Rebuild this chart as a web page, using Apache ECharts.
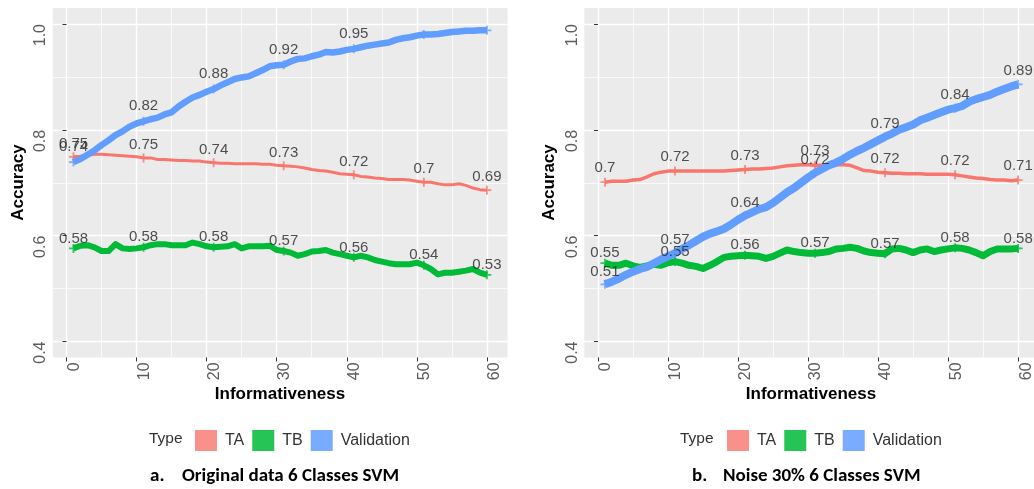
<!DOCTYPE html>
<html><head><meta charset="utf-8">
<script src="https://cdn.jsdelivr.net/npm/echarts@6/dist/echarts.min.js"></script>
<style>html,body{margin:0;padding:0;background:#fff}#c{width:1034px;height:489px}</style>
</head><body><div id="c"></div>
<script>
// ---------- DATA ----------
const informativeness = [1,2,3,4,5,6,7,8,9,10,11,12,13,14,15,16,17,18,19,20,21,22,23,24,25,26,27,28,29,30,
  31,32,33,34,35,36,37,38,39,40,41,42,43,44,45,46,47,48,49,50,51,52,53,54,55,56,57,58,59,60];
const labelAt = [1,11,21,31,41,51,60];
const seriesNames = ['TA','TB','Validation'];
const xTicks = [0,10,20,30,40,50,60];
const xMinor = [5,15,25,35,45,55];
const yTicks = [0.4,0.6,0.8,1.0];
const yMinor = [0.5,0.7,0.9];

// Panel a: Original data 6 Classes SVM
const origTA = [0.749,0.750,0.752,0.754,0.754,0.753,0.752,0.751,0.750,0.749,
  0.747,0.747,0.744,0.744,0.743,0.742,0.742,0.741,0.741,0.739,
  0.738,0.737,0.737,0.736,0.736,0.736,0.736,0.735,0.735,0.733,
  0.732,0.731,0.730,0.728,0.725,0.723,0.722,0.720,0.717,0.716,
  0.715,0.712,0.711,0.709,0.708,0.706,0.706,0.706,0.705,0.703,
  0.701,0.701,0.698,0.696,0.696,0.698,0.695,0.690,0.687,0.686];
const origTB = [0.576,0.581,0.582,0.578,0.571,0.571,0.584,0.576,0.575,0.576,
  0.578,0.582,0.584,0.584,0.582,0.582,0.582,0.587,0.584,0.580,
  0.578,0.579,0.580,0.584,0.576,0.580,0.580,0.580,0.581,0.573,
  0.571,0.568,0.562,0.565,0.570,0.571,0.573,0.568,0.565,0.562,
  0.559,0.562,0.559,0.554,0.551,0.548,0.546,0.546,0.546,0.549,
  0.544,0.537,0.527,0.530,0.530,0.532,0.534,0.537,0.530,0.526];
const origVal = [0.739,0.745,0.753,0.761,0.771,0.780,0.790,0.797,0.806,0.812,
  0.816,0.820,0.823,0.829,0.833,0.844,0.853,0.861,0.866,0.872,
  0.877,0.884,0.890,0.896,0.899,0.901,0.907,0.913,0.920,0.922,
  0.923,0.929,0.934,0.935,0.939,0.942,0.947,0.946,0.948,0.951,
  0.953,0.956,0.959,0.961,0.963,0.965,0.970,0.973,0.975,0.978,
  0.980,0.980,0.981,0.983,0.985,0.986,0.987,0.987,0.988,0.988];
const origTALabels = [0.75,0.75,0.74,0.73,0.72,0.7,0.69];
const origTBLabels = [0.58,0.58,0.58,0.57,0.56,0.54,0.53];
const origValLabels = [0.74,0.82,0.88,0.92,0.95,null,null];

// Panel b: Noise 30% 6 Classes SVM
const noiseTA = [0.701,0.703,0.703,0.703,0.705,0.706,0.711,0.717,0.720,0.722,
  0.722,0.722,0.722,0.722,0.722,0.722,0.722,0.722,0.723,0.724,
  0.725,0.726,0.726,0.727,0.728,0.730,0.732,0.733,0.734,0.734,
  0.733,0.733,0.734,0.734,0.734,0.733,0.728,0.723,0.722,0.720,
  0.719,0.718,0.718,0.717,0.717,0.717,0.716,0.716,0.716,0.716,
  0.715,0.713,0.711,0.709,0.708,0.706,0.705,0.705,0.704,0.705];
const noiseTB = [0.548,0.544,0.544,0.548,0.543,0.540,0.543,0.546,0.544,0.549,
  0.551,0.548,0.544,0.542,0.538,0.544,0.551,0.559,0.561,0.562,
  0.563,0.562,0.561,0.557,0.561,0.567,0.573,0.570,0.568,0.567,
  0.567,0.568,0.570,0.575,0.576,0.578,0.576,0.571,0.568,0.567,
  0.566,0.575,0.576,0.573,0.568,0.573,0.575,0.570,0.573,0.575,
  0.577,0.576,0.573,0.568,0.562,0.570,0.575,0.575,0.575,0.576];
const noiseVal = [0.508,0.513,0.519,0.526,0.532,0.537,0.541,0.548,0.555,0.561,
  0.567,0.575,0.582,0.590,0.598,0.604,0.608,0.613,0.621,0.630,
  0.638,0.644,0.650,0.654,0.662,0.672,0.682,0.690,0.700,0.710,
  0.719,0.726,0.733,0.738,0.745,0.753,0.760,0.766,0.773,0.780,
  0.787,0.793,0.800,0.805,0.810,0.818,0.823,0.828,0.833,0.838,
  0.841,0.845,0.853,0.858,0.862,0.866,0.872,0.877,0.882,0.886];
const noiseTALabels = [0.7,0.72,0.73,0.73,0.72,0.72,0.71];
const noiseTBLabels = [0.55,0.55,0.56,0.57,0.57,0.58,0.58];
const noiseValLabels = [0.51,0.57,0.64,0.72,0.79,0.84,0.89];

// ---------- STYLE ----------
const colors = {TA:'#F8766D', TB:'#00BA38', Validation:'#619CFF'};
const keyColors = {TA:'rgba(248,118,109,0.8)', TB:'rgba(0,186,56,0.85)', Validation:'rgba(97,156,255,0.85)'};
const FONT = '"Liberation Sans", Arial, sans-serif';
const CAPFONT = 'Carlito, Lato, "Open Sans", sans-serif';

const panels = [
  {left:52.8, width:454.8, widths:{TA:3,TB:6,Validation:6.5}, offs:{TA:13,TB:10,Validation:15},
   data:{TA:origTA,TB:origTB,Validation:origVal}, labels:{TA:origTALabels,TB:origTBLabels,Validation:origValLabels}},
  {left:584.3, width:454.5, widths:{TA:3.5,TB:7,Validation:8}, offs:{TA:14,TB:10,Validation:13},
   data:{TA:noiseTA,TB:noiseTB,Validation:noiseVal}, labels:{TA:noiseTALabels,TB:noiseTBLabels,Validation:noiseValLabels}}
];
const TOP = 8.1, HEIGHT = 349.3;
const XMIN = -1.95, XMAX = 62.95, YMIN = 0.37, YMAX = 1.03;

const grid = [], xAxis = [], yAxis = [], series = [];
panels.forEach((p, g) => {
  grid.push({left:p.left, top:TOP, width:p.width, height:HEIGHT, show:true,
    backgroundColor:'#EBEBEB', borderWidth:0, containLabel:false, outerBoundsMode:'none'});
  xAxis.push({gridIndex:g, type:'value', min:XMIN, max:XMAX, position:'bottom',
    axisLine:{show:false},
    axisTick:{show:true, length:4, lineStyle:{color:'#333', width:1}, customValues:xTicks},
    axisLabel:{customValues:xTicks, rotate:90, align:'right', verticalAlign:'top', margin:5,
      fontSize:16, color:'#5c5c5c', fontFamily:FONT},
    splitLine:{show:true, lineStyle:{color:'#FFFFFF', width:1.4}}});
  xAxis.push({gridIndex:g, type:'value', min:XMIN, max:XMAX, position:'top',
    axisLine:{show:false}, axisLabel:{show:false},
    axisTick:{show:false, customValues:xMinor},
    splitLine:{show:true, lineStyle:{color:'#FFFFFF', width:0.7}}});
  yAxis.push({gridIndex:g, type:'value', min:YMIN, max:YMAX, position:'left',
    axisLine:{show:false},
    axisTick:{show:true, length:4, lineStyle:{color:'#333', width:1}, customValues:yTicks},
    axisLabel:{customValues:yTicks, rotate:90, align:'right', verticalAlign:'bottom', margin:4,
      fontSize:16, color:'#5c5c5c', fontFamily:FONT, formatter:v => Number(v).toFixed(1)},
    splitLine:{show:true, lineStyle:{color:'#FFFFFF', width:1.4}}});
  yAxis.push({gridIndex:g, type:'value', min:YMIN, max:YMAX, position:'right',
    axisLine:{show:false}, axisLabel:{show:false},
    axisTick:{show:false, customValues:yMinor},
    splitLine:{show:true, lineStyle:{color:'#FFFFFF', width:0.7}}});

  seriesNames.forEach((name, si) => {
    const vals = p.data[name];
    series.push({name, type:'line', xAxisIndex:g*2, yAxisIndex:g*2, z:2+si,
      data: informativeness.map((x,i)=>[x, vals[i]]),
      showSymbol:false, symbol:'none', color:colors[name],
      lineStyle:{color:colors[name], width:p.widths[name], join:'round'}, animation:false});
  });
  seriesNames.forEach((name, si) => {
    const vals = p.data[name], labs = p.labels[name];
    series.push({name, type:'scatter', xAxisIndex:g*2, yAxisIndex:g*2, z:6+si,
      symbol:'path://M4,0L6,0L6,4L10,4L10,6L6,6L6,10L4,10L4,6L0,6L0,4L4,4Z', symbolSize:9,
      itemStyle:{color:colors[name]},
      data: labelAt.map((x,k)=>({value:[x, vals[informativeness.indexOf(x)]],
        label:{show: labs[k]!=null, formatter: labs[k]==null ? '' : String(labs[k])}})),
      label:{position:'inside', offset:[0,-p.offs[name]], fontSize:15, color:'#262626', fontFamily:FONT},
      emphasis:{disabled:true}, animation:false});
  });
});

const legendData = seriesNames.map(n=>({name:n, icon:'rect', itemStyle:{color:keyColors[n]}}));
const legendBase = {top:425, orient:'horizontal', itemWidth:22, itemHeight:21, itemGap:8, selectedMode:false,
  icon:'rect', textStyle:{fontSize:16, color:'#333', fontFamily:FONT, padding:[0,0,0,3]}, data:legendData};

const txt = (x,y,text,size,weight,extra={}) => Object.assign({type:'text', x, y,
  style:{text, fontSize:size, fontWeight:weight, fontFamily:FONT, fill:'#000', align:'center', verticalAlign:'middle'}}, extra);
const cap = (x,text) => ({type:'text', x, y:476, style:{text, fontSize:19, fontWeight:'bold', fontFamily:CAPFONT, fill:'#000', align:'left', verticalAlign:'middle'}});

const graphic = [
  Object.assign(txt(18,182.5,'Accuracy',17,'bold'), {rotation:Math.PI/2}),
  Object.assign(txt(549,182.5,'Accuracy',17,'bold'), {rotation:Math.PI/2}),
  txt(280,394,'Informativeness',17,'bold'),
  txt(811,394,'Informativeness',17,'bold'),
  {type:'text', x:149, y:439, style:{text:'Type', fontSize:15.5, fontFamily:FONT, fill:'#333', align:'left', verticalAlign:'middle'}},
  {type:'text', x:680, y:439, style:{text:'Type', fontSize:15.5, fontFamily:FONT, fill:'#333', align:'left', verticalAlign:'middle'}},
  cap(150,'a.'), cap(182,'Original data 6 Classes SVM'),
  cap(692,'b.'), cap(723,'Noise 30% 6 Classes SVM')
];

const chart = echarts.init(document.getElementById('c'), null, {renderer:'canvas'});
chart.setOption({
  animation:false, backgroundColor:'#FFFFFF',
  grid, xAxis, yAxis, series, graphic,
  legend:[Object.assign({left:190}, legendBase), Object.assign({left:722}, legendBase)]
});
</script></body></html>
